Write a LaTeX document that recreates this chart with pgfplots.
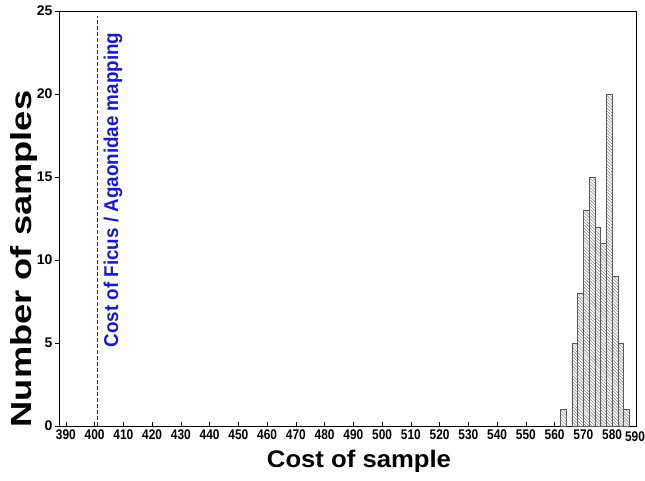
\documentclass[border=0pt]{standalone}
\usepackage{pgfplots}
\pgfplotsset{compat=1.18}
\usepackage{fontspec}
\setmainfont{Liberation Sans}
\usetikzlibrary{patterns.meta}
\definecolor{lblue}{RGB}{25,25,205}
\definecolor{dblue}{RGB}{20,20,220}

\begin{document}
\begin{tikzpicture}
\begin{axis}[
  at={(59pt,-426pt)}, anchor=south west,
  scale only axis, width=577pt, height=415pt,
  xmin=387.6, xmax=588.3, ymin=0, ymax=25,
  xtick={390,400,...,580}, ytick={0,5,...,25},
  xtick pos=bottom, ytick pos=left,
  tick align=inside, major tick length=4pt,
  y tick style={xshift=-4pt},
  tick style={black, line width=0.5pt},
  axis line style={line width=0.8pt},
  /pgf/number format/assume math mode=true,
  ticklabel style={font=\bfseries\fontsize{14}{14}\selectfont},
  xticklabel={\scalebox{0.85}[1]{\pgfmathprintnumber{\tick}}},
  y tick label style={xshift=-3pt},
]
\addplot[ybar, bar width=2, bar shift=0pt, draw=gray!70!black, line width=0.5pt,
  pattern={Lines[angle=-45,distance=2.2pt,line width=0.5pt]}, pattern color=gray]
  coordinates {(563,1) (567,5) (569,8) (571,13) (573,15) (575,12) (577,11) (579,20) (581,9) (583,5) (585,1)};
\addplot[dblue, line width=0.8pt, dash pattern=on 4pt off 2pt] coordinates {(401,0) (401,24.7)};
\end{axis}
\node[rotate=90, font=\bfseries\fontsize{29}{29}\selectfont] at (24pt,-259pt) {\scalebox{1.25}[1]{Number of samples}};
\node[font=\bfseries\fontsize{24}{24}\selectfont] at (359pt,-461pt) {\scalebox{1.07}[1]{Cost of sample}};
\node[rotate=90, text=lblue, font=\bfseries\fontsize{20}{20}\selectfont] at (113pt,-190pt) {\scalebox{0.94}[1]{Cost of Ficus / Agaonidae mapping}};
\node[font=\bfseries\fontsize{14}{14}\selectfont] at (635pt,-437pt) {\scalebox{0.85}[1]{590}};
\pgfresetboundingbox
\path[use as bounding box] (0,0) rectangle (645pt,-481pt);
\end{tikzpicture}
\end{document}
